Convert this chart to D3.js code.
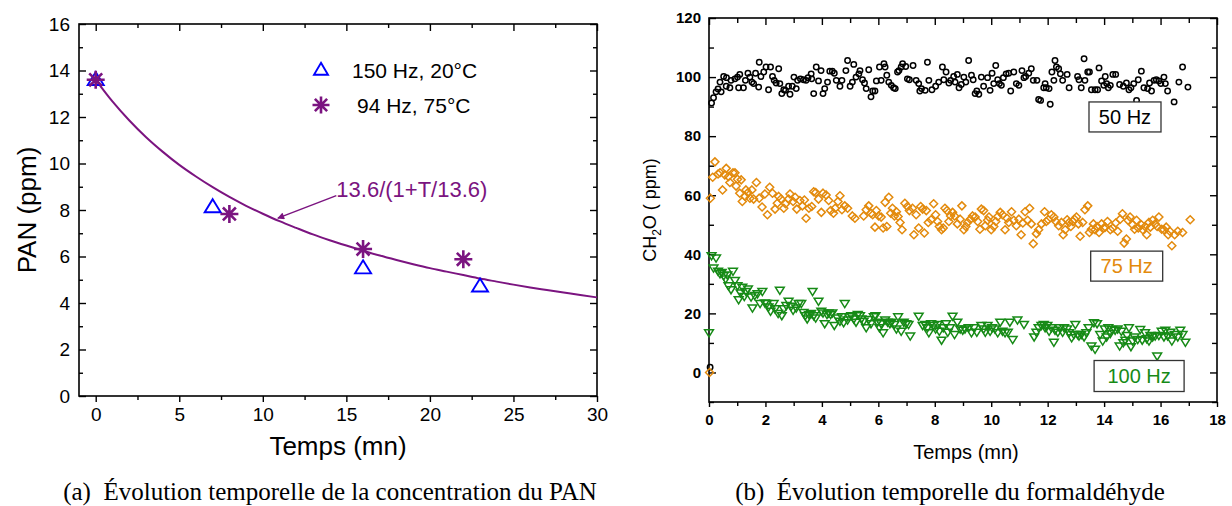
<!DOCTYPE html>
<html><head><meta charset="utf-8">
<script src="https://cdn.jsdelivr.net/npm/d3@7/dist/d3.min.js"></script>
<style>body{margin:0;background:#fff}svg{display:block}</style>
</head><body>
<svg id="c" width="1232" height="506"></svg>
<script>
// ---------- Panel (a) data ----------
const panTime150 = [0, 7, 16, 23];
const pan150 = [13.6, 8.13, 5.5, 4.72];
const panTime94 = [0, 8, 16, 22];
const pan94 = [13.6, 7.83, 6.32, 5.88];
const fitT = [0,1,2,3,4,5,6,7,8,9,10,11,12,13,14,15,16,17,18,19,20,21,22,23,24,25,26,27,28,29,30];
const fitPAN = [13.6,12.67,11.86,11.14,10.51,9.94,9.44,8.98,8.56,8.18,7.84,7.52,7.23,6.95,6.70,6.47,6.25,6.04,5.85,5.67,5.50,5.35,5.20,5.05,4.92,4.79,4.67,4.56,4.45,4.34,4.24];
const xTicksA = [0,5,10,15,20,25,30];
const xMinorA = [2.5,7.5,12.5,17.5,22.5,27.5];
const yTicksA = [0,2,4,6,8,10,12,14,16];
const yMinorA = [1,3,5,7,9,11,13,15];
const legendA = ["150 Hz, 20°C", "94 Hz, 75°C"];

// ---------- Panel (b) data ----------
const xTicksB = [0,2,4,6,8,10,12,14,16,18];
const xMinorB = [1,3,5,7,9,11,13,15,17];
const yTicksB = [0,20,40,60,80,100,120];
const yMinorB = [-10,10,30,50,70,90,110];
const labelsB = ["50 Hz", "75 Hz", "100 Hz"];
const s50 = [[0.04,1.8],[0.09,91.2],[0.16,93],[0.25,95],[0.32,96],[0.39,98.3],[0.43,95],[0.52,100.2],[0.62,99.8],[0.61,96.9],[0.74,96.4],[0.78,98.9],[0.92,99.4],[1.01,100],[1.09,100.9],[1.05,96.4],[1.22,96.4],[1.29,98.9],[1.38,101.3],[1.45,100],[1.52,98.3],[1.58,97.8],[1.65,101.3],[1.76,96.6],[1.78,105],[1.84,100.2],[1.94,101.7],[2.02,103.4],[2.11,95.7],[2.18,103.4],[2.25,100.2],[2.31,98.9],[2.38,98],[2.47,102.8],[2.51,97.8],[2.58,94.4],[2.65,95.7],[2.71,95.5],[2.82,96.9],[2.87,94.2],[2.95,96.9],[3.01,100],[3.09,96.1],[3.14,98.9],[3.24,99.4],[3.35,99.1],[3.44,98.9],[3.51,99.8],[3.62,101.1],[3.64,99.4],[3.71,94.4],[3.80,103.4],[3.88,98.7],[3.97,102.2],[4.04,94.4],[4.1,96.1],[4.2,98.3],[4.28,102],[4.37,102],[4.44,101.3],[4.51,98.9],[4.64,96.9],[4.71,98.9],[4.85,102.2],[4.91,105.6],[5.0,96.9],[5.08,98.3],[5.13,104.3],[5.21,100],[5.31,101.1],[5.35,102.2],[5.44,99.1],[5.51,98],[5.57,96.1],[5.66,102.5],[5.74,93.3],[5.80,95.3],[5.88,95.3],[5.93,98.7],[6.04,103.4],[6.10,98.9],[6.20,104.5],[6.24,103.4],[6.3,100.6],[6.37,98.3],[6.46,97.2],[6.54,96.4],[6.6,96.1],[6.68,101.7],[6.73,102.2],[6.81,103.4],[6.86,104.5],[6.97,103.6],[7.03,99.4],[7.1,99.1],[7.23,103.9],[7.34,98.9],[7.43,97.8],[7.47,95.3],[7.53,96.1],[7.66,95.5],[7.74,105],[7.79,98.9],[7.9,95.7],[8.03,96.9],[8.14,98.3],[8.27,103.4],[8.32,99.1],[8.40,101.7],[8.5,98],[8.56,98.9],[8.67,100.2],[8.72,98.3],[8.80,100.9],[8.86,96.4],[8.94,97.5],[9.03,100],[9.10,98.3],[9.2,105.6],[9.3,100.6],[9.36,99.1],[9.43,94.4],[9.49,95.3],[9.56,94.2],[9.65,100],[9.73,96.9],[9.87,99.8],[9.96,95.5],[10.03,101.3],[10.09,97.8],[10.16,103.9],[10.23,99.1],[10.29,97.8],[10.36,97.2],[10.43,99.8],[10.53,101.1],[10.62,101.3],[10.69,95.3],[10.80,101.7],[10.89,97.8],[10.98,97.2],[11.09,102.2],[11.16,99.8],[11.22,100.2],[11.33,101.3],[11.42,102.8],[11.49,98.9],[11.62,98.9],[11.68,92.4],[11.75,92.1],[11.86,96.4],[11.91,97.8],[11.95,96.4],[12.05,96.1],[12.09,90.8],[12.15,101.7],[12.22,98.9],[12.26,105.6],[12.31,103.4],[12.39,102.8],[12.45,101.1],[12.53,98.9],[12.69,100.9],[12.76,96.4],[13.06,100.2],[13.11,99.1],[13.19,96.4],[13.29,106.2],[13.32,98.9],[13.42,101.7],[13.48,101.7],[13.55,95.7],[13.68,95.7],[13.77,95.7],[13.82,103.1],[13.91,98.7],[13.99,97.2],[14.04,100.2],[14.09,97.8],[14.15,96.4],[14.22,97.2],[14.31,100.9],[14.41,100.9],[14.55,97.5],[14.68,96.9],[14.79,98],[14.88,95.7],[14.95,96.4],[15.05,97.8],[15.15,92.1],[15.21,99.1],[15.32,102],[15.41,96.4],[15.54,96.1],[15.61,98],[15.68,95.3],[15.77,98.9],[15.85,99.1],[15.94,98.7],[16.01,97.8],[16.12,100],[16.17,97.8],[16.25,95.3],[16.48,91.6],[16.65,98.3],[16.78,103.4],[16.97,96.6]];
const s75 = [[0.02,0],[0.05,59],[0.13,66.1],[0.21,71.3],[0.32,67.2],[0.39,67.6],[0.48,61.8],[0.56,66.9],[0.61,69.1],[0.69,66.3],[0.74,64.3],[0.85,67.6],[0.92,67.6],[0.96,63.1],[1.01,65.4],[1.09,60.7],[1.14,65.2],[1.18,57.9],[1.28,59.6],[1.31,61.8],[1.38,60.9],[1.45,59],[1.52,61.8],[1.58,58.7],[1.68,64.3],[1.78,59],[1.88,56],[1.98,60.4],[2.07,53.4],[2.15,62.7],[2.25,60.7],[2.34,55.3],[2.42,57.3],[2.47,59.6],[2.55,58.7],[2.65,55.6],[2.71,57.1],[2.82,58.7],[2.87,60.4],[2.98,57.9],[3.05,59.3],[3.11,55.3],[3.22,58.2],[3.31,56.4],[3.38,58.4],[3.44,52.2],[3.54,55.6],[3.64,56.2],[3.71,61.2],[3.78,60.9],[3.88,58.7],[3.98,54.2],[4.04,60.7],[4.15,60.1],[4.24,58.2],[4.31,54.8],[4.41,53.9],[4.47,55.6],[4.57,57.9],[4.64,59.8],[4.71,55.1],[4.81,56.4],[4.91,55.6],[5.08,53.0],[5.17,52.2],[5.48,53.0],[5.57,55.1],[5.66,56.4],[5.74,53.9],[5.80,53.4],[5.88,49.2],[5.93,54.8],[6.01,53.0],[6.10,52.6],[6.17,48.9],[6.24,57.6],[6.30,49.4],[6.37,59.3],[6.44,53.9],[6.5,55.6],[6.57,53.0],[6.64,54.4],[6.70,52.8],[6.77,50.8],[6.84,48.3],[6.94,57.3],[7.03,56.2],[7.10,54.8],[7.21,55.6],[7.26,46.6],[7.34,53.4],[7.43,48.9],[7.50,56.2],[7.57,55.3],[7.63,47.2],[7.70,54.8],[7.77,50.8],[7.87,51.7],[7.96,57.1],[8.03,53.4],[8.1,51.1],[8.16,49.4],[8.24,48.3],[8.30,48.9],[8.36,55.6],[8.43,54.8],[8.50,51.1],[8.56,53.0],[8.63,54.2],[8.70,53.0],[8.80,50.3],[8.90,51.9],[8.96,56.4],[9.03,48.3],[9.10,49.4],[9.16,50.8],[9.26,51.9],[9.34,53.0],[9.43,52.6],[9.52,51.1],[9.60,48.5],[9.65,55.3],[9.73,54.8],[9.79,49.7],[9.87,51.5],[9.92,52.6],[10.0,48.3],[10.09,49.4],[10.16,51.1],[10.23,52.8],[10.32,54.2],[10.40,53.4],[10.49,48.3],[10.56,52.2],[10.62,50.8],[10.72,54.4],[10.80,51.5],[10.89,49.7],[10.98,51.9],[11.06,46.6],[11.12,50.6],[11.20,54.4],[11.29,51.5],[11.36,55.6],[11.42,50.3],[11.49,43.6],[11.60,47.0],[11.68,48.3],[11.78,50.3],[11.89,54.4],[11.95,51.1],[12.02,51.7],[12.13,53.4],[12.22,52.6],[12.29,51.1],[12.39,49.7],[12.49,50.8],[12.55,46.6],[12.62,48.3],[12.69,51.7],[12.76,50.8],[12.82,49.4],[12.89,51.1],[12.95,51.9],[13.02,52.6],[13.09,50.3],[13.15,46.1],[13.24,50.8],[13.32,55.1],[13.42,56.4],[13.48,47.4],[13.55,48.5],[13.62,50.3],[13.68,48.3],[13.75,49.4],[13.82,47.4],[13.91,50.3],[13.99,48.9],[14.04,49.2],[14.12,51.1],[14.22,48.3],[14.31,48.9],[14.41,50.6],[14.48,47.8],[14.57,51.9],[14.65,53.7],[14.71,43.8],[14.79,45.2],[14.85,51.5],[14.92,52.6],[15.01,50.0],[15.08,48.5],[15.15,51.5],[15.21,48.9],[15.32,50.0],[15.37,48.3],[15.45,49.4],[15.51,46.6],[15.59,50.8],[15.64,49.2],[15.72,51.5],[15.81,50.3],[15.88,49.4],[15.94,52.6],[16.04,48.5],[16.12,48.3],[16.20,49.2],[16.27,46.6],[16.33,47.8],[16.40,42.9],[16.50,46.6],[16.61,47.8],[16.78,47.4],[17.05,51.7]];
const s100 = [[0.0,13.5],[0.09,39.6],[0.16,35.4],[0.25,38.8],[0.32,34.3],[0.39,33.5],[0.45,33.9],[0.52,32.8],[0.59,31.7],[0.65,33.1],[0.69,29.4],[0.78,28.1],[0.85,34.3],[0.92,31.2],[1.01,29.4],[1.05,24.7],[1.12,27],[1.18,28.9],[1.25,25.8],[1.31,27.5],[1.38,28.3],[1.49,25.6],[1.54,21.9],[1.62,26.1],[1.72,26.7],[1.81,23.4],[1.89,27.5],[1.98,23.6],[2.05,23.4],[2.11,22.2],[2.18,20.8],[2.29,23.4],[2.34,21.6],[2.45,20.0],[2.51,27.9],[2.58,19.3],[2.65,21.6],[2.74,22.7],[2.82,24.2],[2.91,22.5],[2.98,21.1],[3.09,21.9],[3.18,23.4],[3.27,23.4],[3.35,20.4],[3.41,19.3],[3.48,18.2],[3.54,19.7],[3.62,20.0],[3.67,27.5],[3.71,19.3],[3.78,18.5],[3.88,24.2],[3.98,20.8],[4.04,20.2],[4.10,16.6],[4.18,19.7],[4.24,20.2],[4.31,19.7],[4.37,20.2],[4.44,16.0],[4.55,18.5],[4.64,17.4],[4.71,18.9],[4.77,16.9],[4.81,23.4],[4.91,17.8],[4.97,18.9],[5.04,19.3],[5.13,18.2],[5.21,17.1],[5.27,19.7],[5.35,19.3],[5.40,18.2],[5.48,17.4],[5.57,15.2],[5.66,18.0],[5.74,16.6],[5.84,18.9],[5.90,19.3],[5.97,17.1],[6.04,15.2],[6.10,16.6],[6.17,13.5],[6.24,17.8],[6.33,17.1],[6.41,16.6],[6.46,17.1],[6.57,16.3],[6.64,14.8],[6.70,18.9],[6.81,14.0],[6.90,17.1],[6.99,16.6],[7.07,16.3],[7.13,12.4],[7.43,19.1],[7.57,16.0],[7.66,16.3],[7.74,15.2],[7.79,13.5],[7.87,16.6],[7.96,16.0],[8.03,14.8],[8.10,16.3],[8.16,14.0],[8.24,11.0],[8.30,15.2],[8.40,16.6],[8.46,13.7],[8.54,15.2],[8.63,19.1],[8.70,12.9],[8.80,17.1],[8.90,14.8],[8.99,14.4],[9.07,14.8],[9.20,15.2],[9.30,13.5],[9.39,15.2],[9.49,13.7],[9.65,16.0],[9.73,14.8],[9.79,13.7],[9.87,16.0],[9.96,14.0],[10.03,15.2],[10.13,14.8],[10.23,13.5],[10.32,17.1],[10.40,14.0],[10.49,13.5],[10.59,13.7],[10.66,17.1],[10.76,11.2],[10.93,17.8],[11.16,16.3],[11.52,12.1],[11.60,13.7],[11.68,15.2],[11.78,16.0],[11.86,16.3],[11.91,15.2],[11.99,16.0],[12.05,14.0],[12.13,15.2],[12.22,10.3],[12.26,14.4],[12.36,13.7],[12.42,15.2],[12.53,13.7],[12.58,15.2],[12.69,14.8],[12.76,13.5],[12.85,11.8],[12.93,12.9],[12.98,16.3],[13.06,12.9],[13.11,12.4],[13.19,12.9],[13.29,12.1],[13.37,13.5],[13.45,15.2],[13.55,9.0],[13.64,16.9],[13.68,7.9],[13.75,16.6],[13.86,12.9],[13.95,10.7],[14.02,14.8],[14.09,12.1],[14.15,15.2],[14.22,13.3],[14.28,14.6],[14.39,14.4],[14.48,14.8],[14.55,9.0],[14.61,14.0],[14.68,10.1],[14.75,11.0],[14.81,12.6],[14.88,15.2],[14.95,8.8],[15.01,10.7],[15.08,12.1],[15.19,11.2],[15.28,14.6],[15.35,11.0],[15.45,13.5],[15.51,11.5],[15.59,10.7],[15.64,12.6],[15.72,12.1],[15.81,12.4],[15.88,5.6],[15.94,12.6],[16.04,14.0],[16.12,12.1],[16.17,14.4],[16.25,12.4],[16.35,13.7],[16.40,10.7],[16.50,12.9],[16.61,12.1],[16.70,14.4],[16.78,12.9],[16.88,10.3]];

const svg = d3.select("#c");
svg.append("rect").attr("width",1232).attr("height",506).attr("fill","#fff");
const SANS = "'Liberation Sans', Arial, sans-serif";
const SERIF = "'Liberation Serif', 'Times New Roman', serif";

function axes(g, x, y, o){
  const [x0,x1] = x.range(), [y0,y1] = y.range();
  const style = sel => { sel.select(".domain").remove(); sel.selectAll("line").attr("stroke","#000").attr("stroke-width",1.4);
    sel.selectAll("text").attr("fill","#000").attr("font-family",SANS).attr("font-size",o.fs).attr("font-weight",o.fw); };
  g.append("g").attr("transform",`translate(0,${y0})`).call(d3.axisBottom(x).tickValues(o.xt).tickSize(o.bt).tickSizeOuter(0).tickPadding(o.xpad)).call(style);
  g.append("g").attr("transform",`translate(0,${y0})`).call(d3.axisBottom(x).tickValues(o.xm).tickSize(o.bm).tickFormat("")).call(style);
  g.append("g").attr("transform",`translate(0,${y1})`).call(d3.axisTop(x).tickValues(o.xt).tickSize(-o.it).tickFormat("")).call(style);
  g.append("g").attr("transform",`translate(0,${y1})`).call(d3.axisTop(x).tickValues(o.xm).tickSize(-o.im).tickFormat("")).call(style);
  g.append("g").attr("transform",`translate(${x0},0)`).call(d3.axisLeft(y).tickValues(o.yt).tickSize(-o.it).tickPadding(o.ypad)).call(style);
  g.append("g").attr("transform",`translate(${x0},0)`).call(d3.axisLeft(y).tickValues(o.ym).tickSize(-o.im).tickFormat("")).call(style);
  g.append("g").attr("transform",`translate(${x1},0)`).call(d3.axisRight(y).tickValues(o.yt).tickSize(-o.it).tickFormat("")).call(style);
  g.append("g").attr("transform",`translate(${x1},0)`).call(d3.axisRight(y).tickValues(o.ym).tickSize(-o.im).tickFormat("")).call(style);
  g.append("rect").attr("x",x0).attr("y",y1).attr("width",x1-x0).attr("height",y0-y1)
   .attr("fill","none").attr("stroke","#000").attr("stroke-width",1.6);
}

// ---------- Panel (a) ----------
const gA = svg.append("g");
const xA = d3.scaleLinear([-1,30],[79,597]);
const yA = d3.scaleLinear([0,16],[396,24]);
axes(gA, xA, yA, {xt:xTicksA, xm:xMinorA, yt:yTicksA, ym:yMinorA, bt:6, bm:4, it:7, im:4, fs:19, fw:"normal", xpad:6, ypad:9});

const PURPLE = "#7b1480";
gA.append("path").datum(fitT.map((t,i)=>[t,fitPAN[i]]))
  .attr("d", d3.line().x(d=>xA(d[0])).y(d=>yA(d[1])).curve(d3.curveMonotoneX))
  .attr("fill","none").attr("stroke",PURPLE).attr("stroke-width",2);

function triUp(cx,cy,w,h){ return `M${cx},${cy-h*0.6}L${cx+w},${cy+h*0.4}L${cx-w},${cy+h*0.4}Z`; }
function star(cx,cy,r){ const d=r*0.72; return `M${cx},${cy-r}V${cy+r}M${cx-r},${cy}H${cx+r}M${cx-d},${cy-d}L${cx+d},${cy+d}M${cx-d},${cy+d}L${cx+d},${cy-d}`; }

gA.selectAll(".t150").data(panTime150).join("path")
  .attr("d",(t,i)=>triUp(xA(t),yA(pan150[i]),8,13))
  .attr("fill","none").attr("stroke","#0000ff").attr("stroke-width",1.9);
gA.selectAll(".s94").data(panTime94).join("path")
  .attr("d",(t,i)=>star(xA(t),yA(pan94[i]),9))
  .attr("fill","none").attr("stroke",PURPLE).attr("stroke-width",2.6);

// legend
gA.append("path").attr("d",triUp(321,70,7,12)).attr("fill","none").attr("stroke","#0000ff").attr("stroke-width",1.9);
gA.append("text").attr("x",352).attr("y",78).text(legendA[0]).attr("font-family",SANS).attr("font-size",21);
gA.append("path").attr("d",star(321,105,8.5)).attr("fill","none").attr("stroke",PURPLE).attr("stroke-width",2.6);
gA.append("text").attr("x",357).attr("y",113).text(legendA[1]).attr("font-family",SANS).attr("font-size",21);

// annotation
const defs = svg.append("defs");
defs.append("marker").attr("id","ah").attr("viewBox","0 0 10 10").attr("refX",9).attr("refY",5)
  .attr("markerWidth",9).attr("markerHeight",7).attr("markerUnits","userSpaceOnUse").attr("orient","auto")
  .append("path").attr("d","M0,0L10,5L0,10Z").attr("fill",PURPLE);
gA.append("line").attr("x1",xA(14.4)).attr("y1",yA(8.62)).attr("x2",xA(10.9)).attr("y2",yA(7.65))
  .attr("stroke",PURPLE).attr("stroke-width",1.5).attr("marker-end","url(#ah)");
gA.append("text").attr("x",xA(14.4)).attr("y",yA(8.55)).text("13.6/(1+T/13.6)")
  .attr("font-family",SANS).attr("font-size",22).attr("fill",PURPLE);

gA.append("text").attr("transform",`translate(36,${(24+396)/2}) rotate(-90)`).attr("text-anchor","middle")
  .text("PAN (ppm)").attr("font-family",SANS).attr("font-size",26);
gA.append("text").attr("x",338).attr("y",455).attr("text-anchor","middle")
  .text("Temps (mn)").attr("font-family",SANS).attr("font-size",26);
gA.append("text").attr("x",330).attr("y",500).attr("text-anchor","middle")
  .text("(a)\u2002Évolution temporelle de la concentration du PAN").attr("font-family",SERIF).attr("font-size",25);

// ---------- Panel (b) ----------
const gB = svg.append("g");
const xB = d3.scaleLinear([0,18],[709,1217]);
const yB = d3.scaleLinear([-10,120],[402,18]);
axes(gB, xB, yB, {xt:xTicksB, xm:xMinorB, yt:yTicksB, ym:yMinorB, bt:5, bm:4, it:7, im:5, fs:15, fw:"bold", xpad:7, ypad:8});

const BLACK="#000", ORANGE="#e38a0c", GREEN="#168a16";
gB.selectAll(".c50").data(s50).join("circle").attr("cx",d=>xB(d[0])).attr("cy",d=>yB(d[1])).attr("r",2.7)
  .attr("fill","none").attr("stroke",BLACK).attr("stroke-width",1.5);
gB.selectAll(".d75").data(s75).join("path")
  .attr("d",d=>{const x=xB(d[0]),y=yB(d[1]),r=4;return `M${x},${y-r}L${x+r},${y}L${x},${y+r}L${x-r},${y}Z`;})
  .attr("fill","none").attr("stroke",ORANGE).attr("stroke-width",1.5);
gB.selectAll(".t100").data(s100).join("path")
  .attr("d",d=>{const x=xB(d[0]),y=yB(d[1]);return `M${x-4.4},${y-2.8}L${x+4.4},${y-2.8}L${x},${y+4.3}Z`;})
  .attr("fill","none").attr("stroke",GREEN).attr("stroke-width",1.5);

function boxLabel(t,v,w,h,txt,col){
  const cx=xB(t), cy=yB(v);
  gB.append("rect").attr("x",cx-w/2).attr("y",cy-h/2).attr("width",w).attr("height",h)
    .attr("fill","#fff").attr("stroke","#333").attr("stroke-width",1.3);
  gB.append("text").attr("x",cx).attr("y",cy+7).attr("text-anchor","middle").text(txt)
    .attr("font-family",SANS).attr("font-size",20).attr("fill",col);
}
boxLabel(14.74,86.5,72,30,labelsB[0],BLACK);
boxLabel(14.8,36,72,30,labelsB[1],ORANGE);
boxLabel(15.24,-1.2,90,31,labelsB[2],GREEN);

const yt = gB.append("text").attr("transform",`translate(656,${(18+402)/2}) rotate(-90)`).attr("text-anchor","middle")
  .attr("font-family",SANS).attr("font-size",18);
yt.append("tspan").text("CH");
yt.append("tspan").text("2").attr("font-size",12).attr("dy",5);
yt.append("tspan").text("O ( ppm)").attr("dy",-5);
gB.append("text").attr("x",966).attr("y",459).attr("text-anchor","middle")
  .text("Temps (mn)").attr("font-family",SANS).attr("font-size",20);
gB.append("text").attr("x",950).attr("y",500).attr("text-anchor","middle")
  .text("(b)\u2002Évolution temporelle du formaldéhyde").attr("font-family",SERIF).attr("font-size",25);
</script>
</body></html>
